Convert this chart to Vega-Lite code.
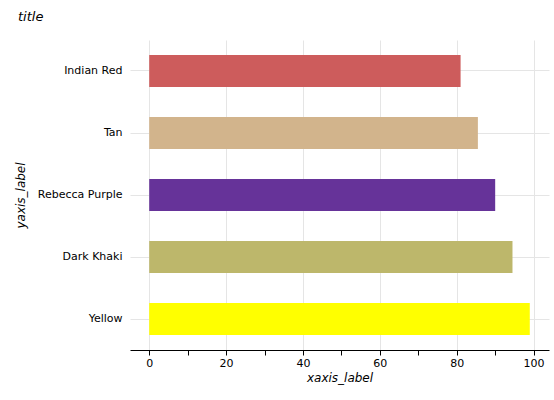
{
  "$schema": "https://vega.github.io/schema/vega-lite/v6.json",
  "autosize": "none",
  "padding": {"left": 130, "top": 40, "right": 5, "bottom": 50},
  "width": 419,
  "height": 310,
  "title": {"text": "title", "anchor": "start", "frame": "group", "dx": -112, "offset": 16, "fontStyle": "italic", "fontWeight": "normal", "fontSize": 13, "font": "DejaVu Sans", "color": "#000"},
  "data": {
    "values": [
      {"name": "Yellow", "value": 99},
      {"name": "Dark Khaki", "value": 94.5},
      {"name": "Rebecca Purple", "value": 90},
      {"name": "Tan", "value": 85.5},
      {"name": "Indian Red", "value": 81}
    ]
  },
  "mark": {"type": "bar", "size": 32},
  "encoding": {
    "y": {
      "field": "name", "type": "nominal", "sort": null,
      "scale": {"reverse": true},
      "axis": {"title": "yaxis_label", "titleFontStyle": "italic", "titleFontWeight": "normal", "titleFont": "DejaVu Sans", "labelFont": "DejaVu Sans", "labelFontSize": 11, "titleFontSize": 12, "grid": true, "bandPosition": 0.5, "gridColor": "#e5e5e5", "domain": false, "ticks": false, "labelPadding": 8, "titlePadding": 10, "labelColor": "#000", "titleColor": "#000"}
    },
    "x": {
      "field": "value", "type": "quantitative",
      "scale": {"domain": [-5, 104], "nice": false},
      "axis": {"title": "xaxis_label", "titleFontStyle": "italic", "titleFontWeight": "normal", "titleFont": "DejaVu Sans", "labelFont": "DejaVu Sans", "labelFontSize": 11, "titleFontSize": 12, "values": [0,10,20,30,40,50,60,70,80,90,100], "labelExpr": "datum.value % 20 == 0 ? datum.label : ''", "gridOpacity": {"condition": {"test": "datum.value % 20 != 0", "value": 0}, "value": 1}, "gridColor": "#e5e5e5", "domainColor": "#000", "tickColor": "#000", "labelColor": "#000", "titleColor": "#000"}
    },
    "color": {
      "field": "name", "type": "nominal", "legend": null,
      "scale": {"domain": ["Yellow", "Dark Khaki", "Rebecca Purple", "Tan", "Indian Red"], "range": ["#ffff00", "#bdb76b", "#663399", "#d2b48c", "#cd5c5c"]}
    }
  },
  "config": {"view": {"stroke": null}}
}
